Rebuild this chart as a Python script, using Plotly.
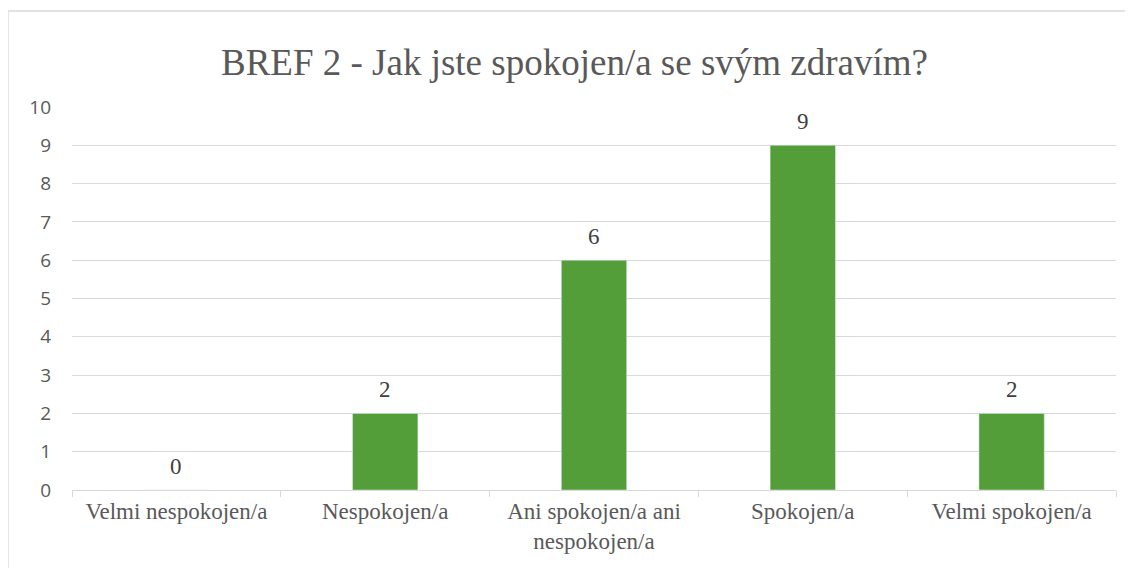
import plotly.graph_objects as go

categories = [
    "Velmi nespokojen/a",
    "Nespokojen/a",
    "Ani spokojen/a ani<br>nespokojen/a",
    "Spokojen/a",
    "Velmi spokojen/a",
]
counts = [0, 2, 6, 9, 2]
y_ticks = list(range(0, 11))

BAR_COLOR = "#549E39"
GRID = "#d9d9d9"
TEXT = "#595959"
SERIF = "Times New Roman, Liberation Serif, DejaVu Serif, serif"

fig = go.Figure(go.Bar(
    x=categories,
    y=counts,
    marker_color=BAR_COLOR,
    hoverinfo="x+y",
))

# data labels sit a bit higher above the bars than plotly's default
for cat, val in zip(categories, counts):
    fig.add_annotation(
        x=cat, y=val, text=str(val),
        showarrow=False, yanchor="bottom", yshift=9,
        font=dict(family=SERIF, size=23, color="#404040"),
    )

# chart frame (left and top edges only, like the cropped Excel chart)
fig.add_shape(
    type="rect", xref="paper", yref="paper",
    x0=-0.0613, x1=1.2, y0=-0.3, y1=1.2507,
    line=dict(color=GRID, width=1.3), layer="below",
)

fig.update_layout(
    title=dict(
        text="BREF 2 - Jak jste spokojen/a se svým zdravím?",
        x=0.5, xanchor="center", y=0.905, yanchor="middle",
        font=dict(family=SERIF, size=37, color=TEXT),
    ),
    width=1133, height=568,
    margin=dict(l=64, r=25, t=99, b=86),
    plot_bgcolor="white",
    paper_bgcolor="white",
    bargap=0.687,
    showlegend=False,
    xaxis=dict(
        showgrid=False,
        showline=True, linecolor=GRID, linewidth=1.3,
        ticks="outside", tickson="boundaries", ticklen=6, tickcolor=GRID,
        tickfont=dict(family=SERIF, size=23, color=TEXT),
    ),
    yaxis=dict(
        range=[0, 10],
        tickvals=y_ticks,
        showgrid=True, gridcolor=GRID, gridwidth=1.3,
        zeroline=False,
        showline=False,
        ticklabelstandoff=20,
        tickfont=dict(family="Open Sans", size=19, color=TEXT),
    ),
)

fig.write_html("out.html")
